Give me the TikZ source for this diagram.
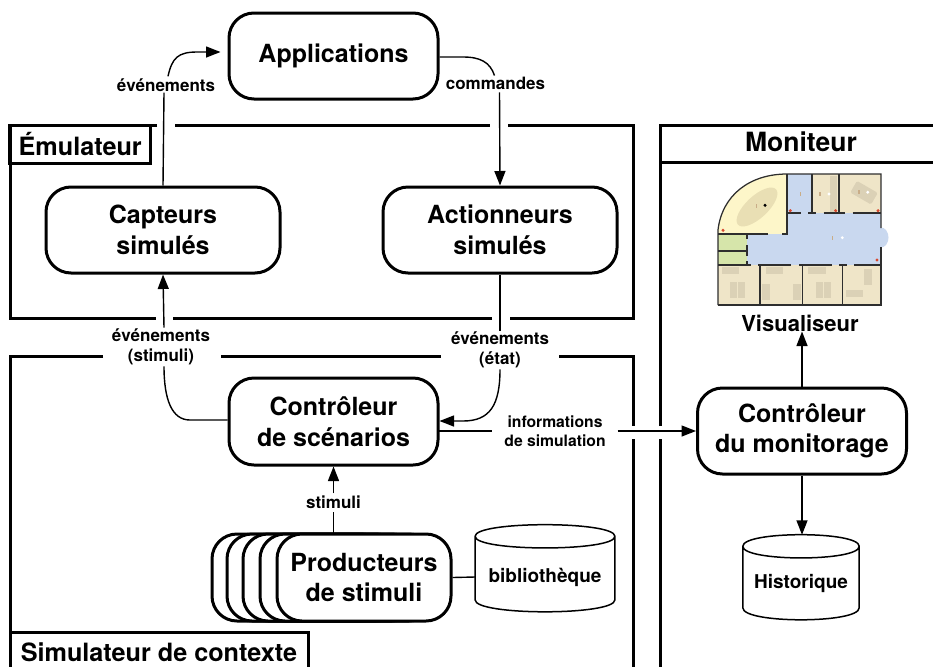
\documentclass[tikz,border=0pt]{standalone}
\usepackage{fontspec}
\setmainfont{TeX Gyre Heros}
\usetikzlibrary{calc,arrows.meta}
\definecolor{roombeige}{HTML}{EFE5C8}
\definecolor{furn}{HTML}{DBD1B6}
\definecolor{roomyellow}{HTML}{FDF6C9}
\definecolor{ellyellow}{HTML}{E9DFB4}
\definecolor{roomblue}{HTML}{C9D8EF}
\definecolor{roomgreen}{HTML}{D6E5AA}
\definecolor{reddot}{HTML}{D8492F}
\definecolor{brownmark}{HTML}{C9AD88}
\definecolor{wall}{HTML}{2E2E2E}
\tikzset{
  framed/.style={line width=3pt,line cap=butt,line join=miter},
  mybox/.style={draw,fill=white,line width=3pt,rounded corners=25pt,inner sep=0pt,align=center,
    font=\fontsize{25}{30.5}\selectfont\bfseries},
  bigtxt/.style={inner sep=0pt,font=\fontsize{25.2}{30}\selectfont\bfseries},
  lab/.style={inner sep=0pt,align=center,font=\fontsize{17}{20}\selectfont\bfseries},
  conn/.style={line width=1.4pt},
  arr/.style={conn,-{Triangle[length=14.5pt,width=11pt]}},
  cyltxt/.style={inner sep=0pt,font=\fontsize{19}{22}\selectfont\bfseries},
  cylline/.style={line width=1.5pt,line join=round},
  wl/.style={wall,line width=1.25pt},
  fu/.style={fill=furn},
}
\newcommand{\cylbody}[2]{%
  \draw[cylline]
    ($(#1.north west)+(0,11.5)$) .. controls ($(#1.north west)+(0,-4)$) and ($(#1.north east)+(0,-4)$) .. ($(#1.north east)+(0,11.5)$)
    .. controls ($(#1.north east)+(0,27)$) and ($(#1.north west)+(0,27)$) .. ($(#1.north west)+(0,11.5)$)
    -- ($(#1.north west)+(0,#2)$)
    .. controls ($(#1.north west)+(0,#2+16)$) and ($(#1.north east)+(0,#2+16)$) .. ($(#1.north east)+(0,#2)$)
    -- ($(#1.north east)+(0,11.5)$);}
\begin{document}
\begin{tikzpicture}[x=1pt,y=-1pt]
\useasboundingbox (0,0) rectangle (933,667);
% frames
\draw[framed] (157,125) -- (10,125) -- (10,318) -- (156,318);
\draw[framed] (175,125) -- (490,125);
\draw[framed] (508,125) -- (633,125) -- (633,318) -- (510,318);
\draw[framed] (492,318) -- (173,318);
\draw[framed] (103,356) -- (10,356) -- (10,667);
\draw[framed] (221,356) -- (441,356);
\draw[framed] (559,356) -- (633,356) -- (633,426);
\draw[framed] (633,439) -- (633,667);
\draw[framed] (660,426) -- (660,125) -- (933,125);
\draw[framed] (660,439) -- (660,667);
\draw[framed] (660,162) -- (933,162);
\draw[framed] (10,632) -- (308.5,632) -- (308.5,667);
\node[draw,framed,inner sep=0pt,minimum width=141.5pt,minimum height=38pt,bigtxt] (emu) at (80.2,144) {Émulateur};
\node[bigtxt] (simu) at (159,652) {Simulateur de contexte};
\node[bigtxt,font=\fontsize{26.5}{30}\selectfont\bfseries] (moni) at (801,142) {Moniteur};
% floor plan
\fill[roombeige] (787,174) rectangle (881,213);
\fill[roomblue] (787,174) rectangle (812,213);
\fill[roomyellow] (718,234) -- (718,230) .. controls (722,195) and (750,174) .. (787,174) -- (787,234) -- cycle;
\fill[roomgreen] (718,234) rectangle (747,265);
\fill[roomblue] (881,237.5) ellipse [x radius=7.5, y radius=10];
\fill[roomblue] (787,213) -- (881,213) -- (881,265) -- (747,265) -- (747,234) -- (787,234) -- cycle;
\fill[roombeige] (718,265) rectangle (881,305);
\fill[ellyellow,rotate around={43:(757,207)}] (757,207) ellipse [x radius=26, y radius=11];
\fill[fu] (722.3,266.7) rectangle (739,274);
\fill[fu] (730,282) rectangle (737,298.3);
\fill[fu] (737.7,282) rectangle (745,298.3);
\fill[fu] (766,266.7) rectangle (783,274);
\fill[fu] (762.3,283.7) rectangle (770,300);
\fill[fu] (793.3,283.7) rectangle (801,300);
\fill[fu] (808.3,266.7) rectangle (825.7,274);
\fill[fu] (816,282) rectangle (823.3,298.3);
\fill[fu] (824,282) rectangle (831.3,298.3);
\fill[fu] (864,269) rectangle (872,285);
\fill[fu] (846,290) rectangle (863.3,297);
\fill[fu] (830,176) rectangle (837.3,211.7);
\fill[fu,rounded corners=1.5pt,rotate around={-30:(864,192.7)}] (852,186) rectangle (876,199.4);
\draw[wl] (718,305) -- (718,230) .. controls (722,195) and (750,174) .. (787,174) -- (881,174) -- (881,228);
\draw[wl] (881,247) -- (881,305) -- (718,305);
\draw[wl] (787,174) -- (787,234) -- (782,234);
\draw[wl] (768,234) -- (718,234);
\draw[wl] (812,174) -- (812,213);
\draw[wl] (839,174) -- (839,213);
\draw[wl] (787,213) -- (800.7,213);
\draw[wl] (808,213) -- (816,213);
\draw[wl] (823.5,213) -- (845,213);
\draw[wl] (852.5,213) -- (881,213);
\draw[wl] (747,234) -- (747,239);
\draw[wl] (747,245) -- (747,256);
\draw[wl] (747,261) -- (747,265);
\draw[wl] (718,251) -- (747,251);
\draw[wl] (718,265) -- (751,265);
\draw[wl] (758,265) -- (791,265);
\draw[wl] (799,265) -- (832,265);
\draw[wl] (839,265) -- (847,265);
\draw[wl] (854,265) -- (881,265);
\draw[wl] (760,265) -- (760,305);
\draw[wl] (802.7,265) -- (802.7,305);
\draw[wl] (842.7,265) -- (842.7,305);
\foreach \p in {(723,230.3),(790.3,210.7),(835.7,210.7),(878,210.7),(877,260)}
  \fill[reddot] \p circle [radius=1.7];
\foreach \p in {(829,194),(867.7,192.3),(842.3,237.7)}
  \fill[white] \p circle [radius=1.6];
\fill[black] (765,205.3) circle [radius=1.7];
\foreach \p in {(820,194),(859,192.3),(832.3,237.7),(756.7,205.7),(800.3,194)}
  \fill[brownmark] \p ++(-0.6,-2) rectangle ++(1.2,4);
% boxes
\node[mybox,minimum width=209pt,minimum height=86pt] (app) at (333.5,56) {Applications};
\node[mybox,minimum width=234pt,minimum height=86pt] (capt) at (163,230) {Capteurs\\simulés};
\node[mybox,minimum width=234pt,minimum height=86pt] (act) at (500,230) {Actionneurs\\simulés};
\node[mybox,minimum width=209pt,minimum height=87pt] (cont) at (333.5,421.5) {Contrôleur\\de scénarios};
\node[mybox,minimum width=209pt,minimum height=86pt] (monc) at (802,431) {Contrôleur\\du monitorage};
\node[mybox,minimum width=174pt,minimum height=87pt] (p1) at (299,577.5) {};
\node[mybox,minimum width=174pt,minimum height=87pt] (p2) at (314,577.5) {};
\node[mybox,minimum width=174pt,minimum height=87pt] (p3) at (330,577.5) {};
\node[mybox,minimum width=174pt,minimum height=87pt] (p4) at (347,577.5) {};
\node[mybox,minimum width=174pt,minimum height=87pt] (prod) at (364,577.5) {Producteurs\\de stimuli};
% cylinders
\node[cyltxt,minimum width=139.5pt,minimum height=104pt] (bib) at (545,577) {bibliothèque};
\cylbody{bib}{75}
\node[cyltxt,minimum width=116pt,minimum height=96pt] (hist) at (801,583) {Historique};
\cylbody{hist}{73}
\node[bigtxt,font=\fontsize{22}{26}\selectfont\bfseries] (vis) at (800,323) {Visualiseur};
% labels
\node[lab] (levt) at (166,85) {événements};
\node[lab] (lcom) at (495.5,83) {commandes};
\node[lab] (lsti) at (161,347) {événements\\(stimuli)};
\node[lab] (leta) at (500,350) {événements\\(état)};
\node[lab] (lstim) at (333.5,502) {stimuli};
\node[lab,font=\fontsize{15.7}{19}\selectfont\bfseries,minimum width=125pt] (linf) at (555,431) {informations\\de simulation};
% connectors
\draw[conn] (capt.north) -- ([xshift=-2pt,yshift=-1pt]levt.south);
\draw[arr,shorten >=7pt] ([xshift=2pt,yshift=2pt]levt.north) .. controls (172,58) and (178,52) .. (197,52) -- ([yshift=4pt]app.west);
\draw[conn] ([yshift=-1pt]app.east) -- (463,57) .. controls (480,57) and (490,62) .. ([yshift=1pt,xshift=-1pt]lcom.north);
\draw[arr] ([xshift=4pt,yshift=-3pt]lcom.south) -- (act.north);
\draw[arr] ([xshift=3pt,yshift=1pt]lsti.north) -- (capt.south);
\draw[conn] (cont.west |- 0,420) -- (190,420) .. controls (172,420) and (164,400) .. ([xshift=3pt,yshift=-1pt]lsti.south);
\draw[conn] (act.south) -- ([yshift=1pt]leta.north);
\draw[arr] ([yshift=-1pt]leta.south) .. controls (500,405) and (490,421) .. (463,421) -- (cont.east |- 0,421);
\draw[conn] ([xshift=-2.5pt,yshift=-9.5pt]cont.east) -- (linf.west);
\draw[arr] (linf.east) -- (monc.west);
\draw[conn] (cont.south |- prod.north) -- ([yshift=-3pt]lstim.south);
\draw[arr] ([yshift=2pt]lstim.north) -- (cont.south);
\draw[conn] (prod.east) -- (bib.west);
\draw[arr] (monc.north) -- (monc.north |- vis.south);
\draw[arr] (monc.south) -- (monc.south |- hist.north);
\end{tikzpicture}
\end{document}
